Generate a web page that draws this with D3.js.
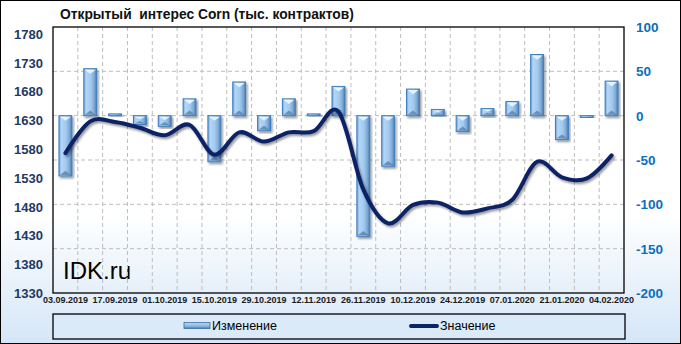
<!DOCTYPE html>
<html lang="ru">

<head>
    <meta charset="UTF-8">
    <script src="https://cdn.jsdelivr.net/npm/d3@7"></script>
    <style>
        * {
            margin: 0;
            padding: 0;
        }

        body {
            background: #ffffff;
        }

        text {
            font-family: "Liberation Sans", Arial, sans-serif;
        }
    </style>
    <title>Открытый интерес Corn</title>
</head>

<body>
    <script>

        const width = 681;
        const height = 344;
        const plot = { left: 53, right: 624, top: 27, bottom: 293 };

        const dates = ["03.09.2019", "10.09.2019", "17.09.2019", "24.09.2019", "01.10.2019", "08.10.2019",
            "15.10.2019", "22.10.2019", "29.10.2019", "05.11.2019", "12.11.2019", "19.11.2019",
            "26.11.2019", "03.12.2019", "10.12.2019", "17.12.2019", "24.12.2019", "31.12.2019",
            "07.01.2020", "14.01.2020", "21.01.2020", "28.01.2020", "04.02.2020"];
        const changes = [-68, 53, 2, -10, -12, 19, -52, 38, -17, 19, 2, 33, -136, -57, 30, 7, -18, 8, 16, 69, -27, -2, 39];
        const values = [1573, 1628, 1627, 1617, 1604, 1622, 1570, 1609, 1593, 1609, 1611, 1645, 1510, 1451, 1483,
            1487, 1470, 1477, 1492, 1558, 1531, 1529, 1569];
        const leftTicks = [1330, 1380, 1430, 1480, 1530, 1580, 1630, 1680, 1730, 1780];
        const rightTicks = [-200, -150, -100, -50, 0, 50, 100];
        const title = "Открытый  интерес Corn (тыс. контрактов)";

        let svg = d3.select("body").append("svg")
            .attr("width", width)
            .attr("height", height);

        let x = d3.scaleBand().domain(dates).range([plot.left, plot.right]);
        let yLeft = d3.scaleLinear().domain([1330, 1792]).range([plot.bottom, plot.top]);
        let yRight = d3.scaleLinear().domain([-200, 100]).range([plot.bottom, plot.top]);

        createDefs();
        createBackground();
        createGrid();
        createBars();
        createLine();
        createAxes();
        createLegend();

        function createDefs() {
            let defs = svg.append("defs");
            let bg = defs.append("linearGradient").attr("id", "bg")
                .attr("x1", 0).attr("y1", 0).attr("x2", 0).attr("y2", 1);
            bg.append("stop").attr("offset", "0%").attr("stop-color", "#ffffff");
            bg.append("stop").attr("offset", "62%").attr("stop-color", "#ffffff");
            bg.append("stop").attr("offset", "100%").attr("stop-color", "#d5e6f7");

            let bar = defs.append("linearGradient").attr("id", "bar")
                .attr("x1", 0).attr("y1", 0).attr("x2", 1).attr("y2", 0);
            [["0%", "#6e9fd2"], ["18%", "#b3d6f6"], ["55%", "#a2c9ee"], ["80%", "#7eabd8"], ["100%", "#4d7aa8"]]
                .forEach(s => bar.append("stop").attr("offset", s[0]).attr("stop-color", s[1]));

            let legBar = defs.append("linearGradient").attr("id", "legbar")
                .attr("x1", 0).attr("y1", 0).attr("x2", 0).attr("y2", 1);
            [["0%", "#b8d8f6"], ["60%", "#8fb8e2"], ["100%", "#4d7aa8"]]
                .forEach(s => legBar.append("stop").attr("offset", s[0]).attr("stop-color", s[1]));

            let sh = defs.append("filter").attr("id", "shadow")
                .attr("x", "-20%").attr("y", "-20%").attr("width", "140%").attr("height", "140%");
            sh.append("feDropShadow").attr("dx", 1.5).attr("dy", 2).attr("stdDeviation", 1.2)
                .attr("flood-color", "#000").attr("flood-opacity", 0.4);
        }

        function createBackground() {
            svg.append("rect")
                .attr("x", 0.5).attr("y", 0.5)
                .attr("width", width - 1).attr("height", height - 1)
                .attr("fill", "url(#bg)")
                .attr("stroke", "#000");

            svg.append("text")
                .attr("x", 60).attr("y", 19)
                .style("white-space", "pre")
                .attr("font-size", 13.8).attr("font-weight", "bold")
                .attr("fill", "#111")
                .text(title);

            svg.append("text")
                .attr("x", 63).attr("y", 279)
                .attr("font-size", 24)
                .attr("fill", "#000")
                .text("IDK.ru");
        }

        function createGrid() {
            let g = svg.append("g").attr("stroke", "#bdbdbd").attr("stroke-dasharray", "4,3");
            g.selectAll("line.h").data(rightTicks.slice(1, -1)).enter().append("line")
                .attr("x1", plot.left).attr("x2", plot.right)
                .attr("y1", d => yRight(d)).attr("y2", d => yRight(d));
            g.selectAll("line.v").data(dates.slice(1)).enter().append("line")
                .attr("x1", d => x(d)).attr("x2", d => x(d))
                .attr("y1", plot.top).attr("y2", plot.bottom);

            svg.append("rect")
                .attr("x", plot.left).attr("y", plot.top)
                .attr("width", plot.right - plot.left).attr("height", plot.bottom - plot.top)
                .attr("fill", "none").attr("stroke", "#000").attr("stroke-width", 1.3);
        }

        function createBars() {
            let bw = x.bandwidth() * 0.52;
            let items = svg.append("g").selectAll("g.bar").data(dates).enter()
                .append("g").classed("bar", true)
                .attr("filter", "url(#shadow)");

            items.each(function (d, i) {
                let g = d3.select(this);
                let x0 = x(d) + (x.bandwidth() - bw) / 2;
                let x1 = x0 + bw;
                let top = yRight(Math.max(0, changes[i]));
                let bot = yRight(Math.min(0, changes[i]));
                let h = Math.max(bot - top, 1.5);
                g.append("rect")
                    .attr("x", x0).attr("y", top)
                    .attr("width", bw).attr("height", h)
                    .attr("fill", "url(#bar)")
                    .attr("stroke", "#3d7fc1").attr("stroke-width", 1);
                if (h > 5) {
                    let b = Math.min(bw / 2, h / 2) * 0.8;
                    let xc = (x0 + x1) / 2;
                    g.append("path")
                        .attr("d", `M${x0 + 1},${top + 1}L${x1 - 1},${top + 1}L${xc},${top + b}Z`)
                        .attr("fill", "#e6f3ff");
                    g.append("path")
                        .attr("d", `M${x0 + 1},${bot - 1}L${x1 - 1},${bot - 1}L${xc},${bot - b}Z`)
                        .attr("fill", "#5a82aa").attr("opacity", 0.8);
                }
            });
        }

        function createLine() {
            let line = d3.line()
                .x((d, i) => x(dates[i]) + x.bandwidth() / 2)
                .y(d => yLeft(d))
                .curve(d3.curveCardinal.tension(0));
            svg.append("path")
                .datum(values)
                .attr("d", line)
                .attr("fill", "none")
                .attr("stroke", "#0b2466")
                .attr("stroke-width", 4)
                .attr("stroke-linecap", "round")
                .attr("filter", "url(#shadow)");
        }

        function createAxes() {
            svg.append("g").selectAll("text").data(leftTicks).enter().append("text")
                .attr("x", 43).attr("y", d => yLeft(d) + 5)
                .attr("text-anchor", "end")
                .attr("font-size", 13).attr("font-weight", "bold")
                .attr("fill", "#1f3864")
                .text(d => d);

            svg.append("g").selectAll("text").data(rightTicks).enter().append("text")
                .attr("x", 636).attr("y", d => yRight(d) + 5)
                .attr("font-size", 13.5).attr("font-weight", "bold")
                .attr("fill", "#0a70c0")
                .text(d => d);

            svg.append("g").selectAll("text").data(dates.filter((d, i) => i % 2 === 0)).enter().append("text")
                .attr("x", d => x(d) + x.bandwidth() / 2).attr("y", 303)
                .attr("text-anchor", "middle")
                .attr("font-size", 9).attr("font-weight", "bold")
                .attr("fill", "#1a1a1a")
                .text(d => d);
        }

        function createLegend() {
            svg.append("rect")
                .attr("x", 53).attr("y", 314)
                .attr("width", 572).attr("height", 25)
                .attr("fill", "#dbeaf8").attr("stroke", "#000").attr("stroke-width", 1.3);

            svg.append("rect")
                .attr("x", 184).attr("y", 322.5)
                .attr("width", 26).attr("height", 6)
                .attr("fill", "url(#legbar)").attr("stroke", "#3d6f9f").attr("stroke-width", 0.8);
            svg.append("text")
                .attr("x", 212).attr("y", 330)
                .attr("font-size", 12.5).attr("fill", "#000")
                .text("Изменение");

            svg.append("line")
                .attr("x1", 411).attr("x2", 437).attr("y1", 326).attr("y2", 326)
                .attr("stroke", "#0b2466").attr("stroke-width", 4).attr("stroke-linecap", "round");
            svg.append("text")
                .attr("x", 440).attr("y", 330)
                .attr("font-size", 12.5).attr("fill", "#000")
                .text("Значение");
        }

    </script>
</body>

</html>
